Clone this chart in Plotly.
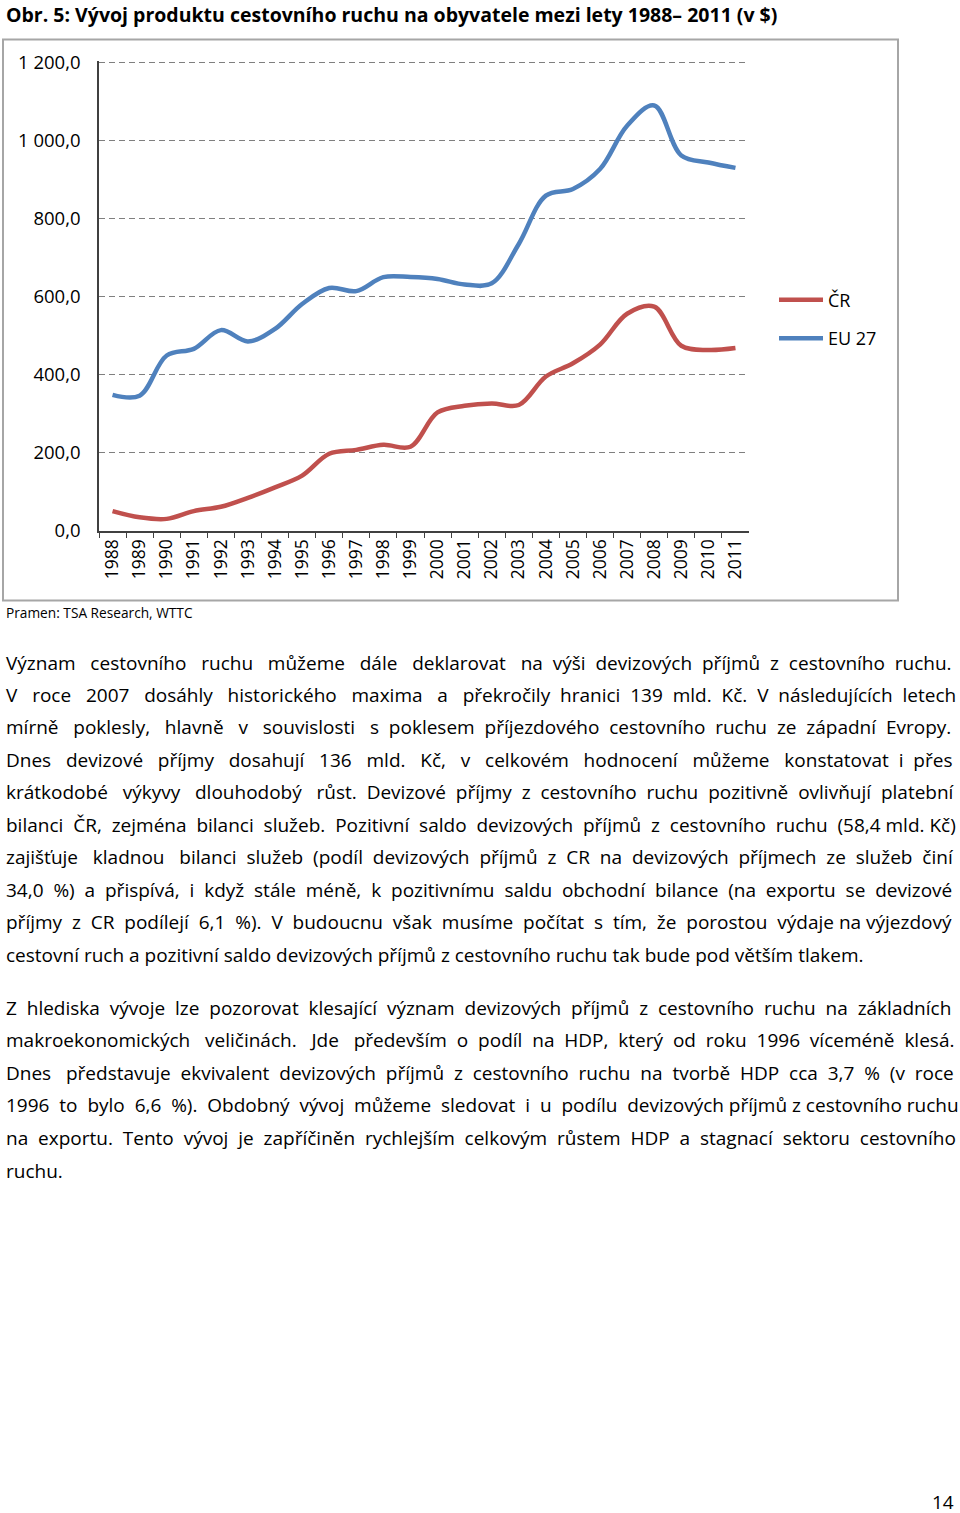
import plotly.graph_objects as go

# data (USD per inhabitant)
years = [str(y) for y in range(1988, 2012)]
cr = [50, 34, 30, 50, 61, 84, 111, 141, 197, 207, 220, 215,
      303, 320, 326, 322, 395, 429, 477, 556, 574, 474, 463, 468]
eu27 = [348, 346, 449, 466, 514, 485, 517, 581, 622, 614, 650, 650,
        645, 631, 634, 735, 859, 876, 927, 1038, 1090, 962, 944, 930]

y_ticks = [0, 200, 400, 600, 800, 1000, 1200]
y_labels = ['0,0', '200,0', '400,0', '600,0', '800,0', '1 000,0', '1 200,0']

title = 'Obr. 5: Vývoj produktu cestovního ruchu na obyvatele mezi lety 1988– 2011 (v $)'
source = 'Pramen: TSA Research, WTTC'

para1 = [
    'Význam cestovního ruchu můžeme dále deklarovat na výši devizových příjmů z cestovního ruchu.',
    'V roce 2007 dosáhly historického maxima a překročily hranici 139 mld. Kč. V následujících letech',
    'mírně poklesly, hlavně v souvislosti s poklesem příjezdového cestovního ruchu ze západní Evropy.',
    'Dnes devizové příjmy dosahují 136 mld. Kč, v celkovém hodnocení můžeme konstatovat i přes',
    'krátkodobé výkyvy dlouhodobý růst. Devizové příjmy z cestovního ruchu pozitivně ovlivňují platební',
    'bilanci ČR, zejména bilanci služeb. Pozitivní saldo devizových příjmů z cestovního ruchu (58,4 mld. Kč)',
    'zajišťuje kladnou bilanci služeb (podíl devizových příjmů z CR na devizových příjmech ze služeb činí',
    '34,0 %) a přispívá, i když stále méně, k pozitivnímu saldu obchodní bilance (na exportu se devizové',
    'příjmy z CR podílejí 6,1 %). V budoucnu však musíme počítat s tím, že porostou výdaje na výjezdový',
    'cestovní ruch a pozitivní saldo devizových příjmů z cestovního ruchu tak bude pod větším tlakem.',
]
para2 = [
    'Z hlediska vývoje lze pozorovat klesající význam devizových příjmů z cestovního ruchu na základních',
    'makroekonomických veličinách. Jde především o podíl na HDP, který od roku 1996 víceméně klesá.',
    'Dnes představuje ekvivalent devizových příjmů z cestovního ruchu na tvorbě HDP cca 3,7 % (v roce',
    '1996 to bylo 6,6 %). Obdobný vývoj můžeme sledovat i u podílu devizových příjmů z cestovního ruchu',
    'na exportu. Tento vývoj je zapříčiněn rychlejším celkovým růstem HDP a stagnací sektoru cestovního',
    'ruchu.',
]

W, H = 960, 1530
# the screenshot shifts the page down ~11 px and squeezes it vertically by ~1.5 %
OFF, SY = 11.4, 0.985
FONT = 'Open Sans'
BODY = 19

# rough Open Sans advance widths (em) used to pad justified lines
ADV = {' ': .26, 'a': .556, 'b': .613, 'c': .476, 'd': .613, 'e': .561, 'f': .339,
       'g': .548, 'h': .614, 'i': .253, 'j': .253, 'k': .525, 'l': .253, 'm': .93,
       'n': .614, 'o': .604, 'p': .613, 'q': .613, 'r': .408, 's': .477, 't': .353,
       'u': .614, 'v': .501, 'w': .778, 'x': .524, 'y': .502, 'z': .477,
       '.': .266, ',': .244, '(': .29, ')': .29, '%': .828,
       'V': .59, 'D': .722, 'Z': .564, 'C': .634, 'R': .627, 'K': .586, 'E': .557,
       'H': .738, 'P': .604, 'J': .266, 'T': .566}
BASE = {'á': 'a', 'é': 'e', 'ě': 'e', 'í': 'i', 'ý': 'y', 'ů': 'u', 'ú': 'u', 'ř': 'r',
        'š': 's', 'č': 'c', 'ž': 'z', 'ň': 'n', 'ť': 't', 'Č': 'C'}


def text_width(s, size):
    w = 0
    for ch in s:
        ch = BASE.get(ch, ch)
        w += ADV.get(ch, .572 if ch.isdigit() else .55)
    return w * size


def justify(line, size, target):
    words = line.split(' ')
    gaps = len(words) - 1
    extra = round((target - text_width(line, size)) / (ADV[' '] * size))
    if gaps == 0 or extra <= 0:
        return line
    out = words[0]
    for i, w in enumerate(words[1:]):
        n = extra // gaps + (1 if i < extra % gaps else 0)
        out += ' ' + '\u00a0' * n + w
    return out


def px(x):
    return x / W


def py(y):
    return 1 - ((y - OFF) / SY) / H


fig = go.Figure()
fig.add_trace(go.Scatter(x=years, y=cr, name='ČR', mode='lines', legendgroup='cr',
                         line=dict(color='#C0504D', width=4.5, shape='spline')))
fig.add_trace(go.Scatter(x=years, y=eu27, name='EU 27', mode='lines', legendgroup='eu',
                         line=dict(color='#4F81BD', width=4.5, shape='spline')))

annotations = [
    dict(text='<b>' + title + '</b>', x=px(4), y=py(14), font=dict(size=19.5)),
    dict(text=source, x=px(4), y=py(612), font=dict(size=13.7)),
    dict(text='14', x=px(956), y=py(1501), font=dict(size=19), xanchor='right'),
]
for lines, top, step in [(para1, 662, 32.45), (para2, 1007, 32.6)]:
    for i, line in enumerate(lines):
        if i < len(lines) - 1:
            line = justify(line, BODY, 949)
        annotations.append(dict(text=line, x=px(4), y=py(top + i * step),
                                font=dict(size=BODY)))
for a in annotations:
    a.setdefault('xanchor', 'left')
    a.update(xref='paper', yref='paper', yanchor='middle', showarrow=False)

fig.update_layout(
    width=W, height=H, autosize=False,
    margin=dict(l=0, r=0, t=0, b=0),
    paper_bgcolor='white', plot_bgcolor='white',
    font=dict(family=FONT, color='black'),
    showlegend=True,
    legend=dict(x=px(774), y=py(281), xanchor='left', yanchor='top',
                font=dict(size=18), itemwidth=44, tracegroupgap=12,
                traceorder='grouped', bgcolor='rgba(0,0,0,0)'),
    annotations=annotations,
    shapes=[dict(type='rect', xref='paper', yref='paper',
                 x0=px(3), x1=px(898), y0=py(600), y1=py(39),
                 line=dict(color='#A6A6A6', width=2))],
)
fig.update_xaxes(
    domain=[px(99), px(749)], type='category', range=[-0.5, 23.5],
    showline=True, linecolor='#404040', linewidth=1.5,
    ticks='outside', tickson='boundaries', ticklen=6, tickcolor='#404040',
    tickangle=-90, tickfont=dict(size=17.5), showgrid=False,
)
fig.update_yaxes(
    domain=[py(530), py(62 - 5 * 468 / 1200)], range=[0, 1205],
    tickvals=y_ticks, ticktext=y_labels, tickfont=dict(size=18.5),
    showline=True, linecolor='#404040', linewidth=1.5, ticks='',
    ticklabelstandoff=13,
    showgrid=True, gridcolor='#7F7F7F', gridwidth=1, griddash='6px,4px',
    zeroline=False,
)

fig.write_html('out.html', config={'displayModeBar': False},
               post_script="document.body.style.margin='0';")
